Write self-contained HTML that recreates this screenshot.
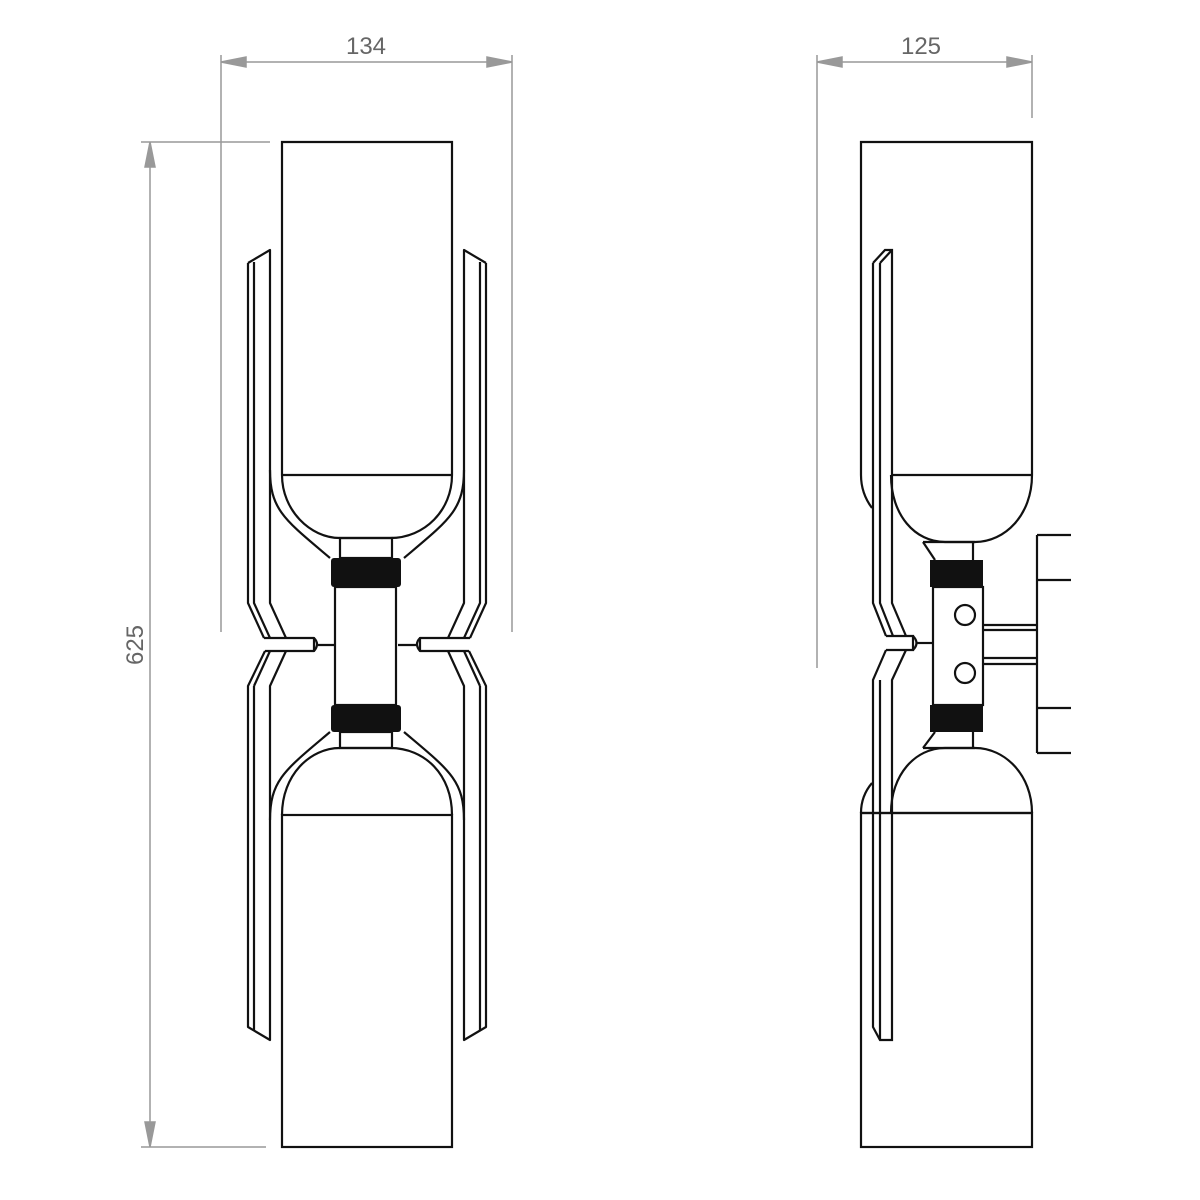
<!DOCTYPE html>
<html><head><meta charset="utf-8"><style>
html,body{margin:0;padding:0;background:#fff}
svg{display:block}
text{font-family:"Liberation Sans",sans-serif;fill:#666;font-size:24px}
</style></head><body>
<svg width="1200" height="1200" viewBox="0 0 1200 1200" xmlns="http://www.w3.org/2000/svg">
<defs>
<g id="larm" fill="none" stroke="#111" stroke-width="2.2" stroke-linejoin="round">
  <path d="M248,263 L270,250 L270,603 L286,638"/>
  <path d="M248,263 L248,603 L264,638"/>
  <path d="M254,262 L254,603 L270,638"/>
  <path d="M264,638 L314,638 L314,651 L265,651"/>
  <path d="M314,638 Q320,644 314,651"/>
  <line x1="318" y1="645" x2="336" y2="645"/>
  <path d="M265,651 L248,686 L248,1027 L270,1040 L270,686 L286,651"/>
  <path d="M254,686 L254,1030"/>
  <path d="M270,651 L254,686"/>
</g>
</defs>

<g stroke="#999" stroke-width="1.5" fill="#999">
  <line x1="221" y1="55" x2="221" y2="632"/>
  <line x1="512" y1="55" x2="512" y2="632"/>
  <line x1="221" y1="62" x2="512" y2="62"/>
  <polygon points="221,62 246,57 246,67"/>
  <polygon points="512,62 487,57 487,67"/>
  <line x1="141" y1="142" x2="270" y2="142"/>
  <line x1="141" y1="1147" x2="266" y2="1147"/>
  <line x1="150" y1="142" x2="150" y2="1147"/>
  <polygon points="150,142 145,167 155,167"/>
  <polygon points="150,1147 145,1122 155,1122"/>
  <line x1="817" y1="55" x2="817" y2="668"/>
  <line x1="1032" y1="55" x2="1032" y2="118"/>
  <line x1="817" y1="62" x2="1032" y2="62"/>
  <polygon points="817,62 842,57 842,67"/>
  <polygon points="1032,62 1007,57 1007,67"/>
</g>
<text x="366" y="54" text-anchor="middle">134</text>
<text x="921" y="54" text-anchor="middle">125</text>
<text transform="translate(143,645) rotate(-90)" text-anchor="middle">625</text>

<g fill="none" stroke="#111" stroke-width="2.2">
  <path d="M282,475 L282,142 L452,142 L452,475"/>
  <line x1="282" y1="475" x2="452" y2="475"/>
  <path d="M282,475 C282,510 310,538 340,538 L390,538 C425,538 452,510 452,475"/>
  <path d="M270,470 C270,510 285,520 330,558"/>
  <path d="M464,470 C464,510 449,520 404,558"/>
  <rect x="340" y="538" width="52" height="20"/>
  <rect x="335" y="587" width="61" height="118"/>
  <rect x="340" y="732" width="52" height="16"/>
  <path d="M282,815 C282,775 310,748 340,748 L390,748 C425,748 452,775 452,815"/>
  <path d="M270,820 C270,780 285,770 330,732"/>
  <path d="M464,820 C464,780 449,770 404,732"/>
  <rect x="282" y="815" width="170" height="332"/>
</g>
<rect x="331" y="558" width="70" height="29" rx="3" fill="#111"/>
<rect x="331" y="705" width="70" height="27" rx="3" fill="#111"/>
<use href="#larm"/>
<use href="#larm" transform="translate(734,0) scale(-1,1)"/>

<g fill="none" stroke="#111" stroke-width="2.2">
  <path d="M861,475 L861,142 L1032,142 L1032,475"/>
  <line x1="891" y1="475" x2="1032" y2="475"/>
  <path d="M891,475 C891,515 915,542 945,542 L975,542 C1005,542 1032,515 1032,475"/>
  <path d="M861,475 C861,490 866,500 872,508"/>
  <line x1="923" y1="542" x2="975" y2="542"/>
  <path d="M923,542 L935,560"/>
  <line x1="973" y1="542" x2="973" y2="560"/>
  <rect x="933" y="587" width="50" height="118"/>
  <circle cx="965" cy="615" r="10"/>
  <circle cx="965" cy="673" r="10"/>
  <line x1="983" y1="625" x2="1037" y2="625"/>
  <line x1="983" y1="630" x2="1037" y2="630"/>
  <line x1="983" y1="658" x2="1037" y2="658"/>
  <line x1="983" y1="664" x2="1037" y2="664"/>
  <line x1="1037" y1="535" x2="1037" y2="753"/>
  <line x1="1037" y1="535" x2="1071" y2="535"/>
  <line x1="1037" y1="580" x2="1071" y2="580"/>
  <line x1="1037" y1="708" x2="1071" y2="708"/>
  <line x1="1037" y1="753" x2="1071" y2="753"/>
  <line x1="923" y1="748" x2="975" y2="748"/>
  <path d="M923,748 L935,732"/>
  <line x1="973" y1="732" x2="973" y2="748"/>
  <path d="M891,813 C891,775 915,748 945,748 L975,748 C1005,748 1032,775 1032,813"/>
  <path d="M861,813 C861,800 866,790 872,783"/>
  <line x1="861" y1="813" x2="1032" y2="813"/>
  <rect x="861" y="813" width="171" height="334"/>
  <path d="M873,263 L885,250 L892,250 L892,603 L906,636"/>
  <path d="M873,263 L873,603 L886,636"/>
  <path d="M880,263 L880,603 L893,636"/>
  <line x1="880" y1="263" x2="892" y2="250"/>
  <path d="M886,636 L913,636 L913,650 L886,650"/>
  <path d="M913,636 Q920,643 913,650"/>
  <line x1="917" y1="643" x2="933" y2="643"/>
  <path d="M886,650 L873,680 L873,1027 L880,1040 L892,1040 L892,680 L906,650"/>
  <line x1="880" y1="680" x2="880" y2="1040"/>
</g>
<rect x="930" y="560" width="53" height="27" fill="#111"/>
<rect x="930" y="705" width="53" height="27" fill="#111"/>
</svg>
</body></html>
